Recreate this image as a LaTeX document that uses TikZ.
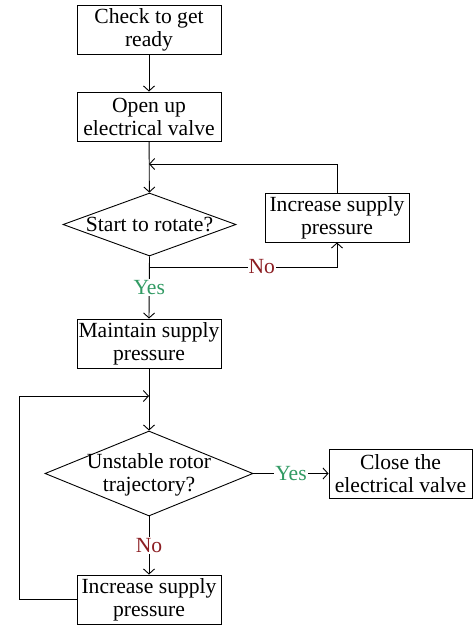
\documentclass[tikz,border=0pt]{standalone}
\usepackage{fontspec}
\setmainfont{Liberation Serif}
\usetikzlibrary{shapes.geometric,arrows.meta}
\definecolor{yesgreen}{RGB}{50,155,100}
\definecolor{nored}{RGB}{140,30,35}
\tikzset{
  every node/.style={font=\fontsize{21.6}{23}\selectfont},
  stepbox/.style={draw, line width=0.9pt, minimum width=144pt, minimum height=49pt, inner sep=0pt, align=center},
  decision/.style={draw, line width=0.9pt, diamond, inner sep=0pt},
  flow/.style={line width=0.9pt, -{Straight Barb[length=5pt,width=11pt,line width=0.9pt]}},
  plain/.style={line width=0.9pt},
  yeslab/.style={fill=white, text=yesgreen, inner sep=1pt},
  nolab/.style={fill=white, text=nored, inner sep=1pt},
}
\begin{document}
\begin{tikzpicture}[x=1pt,y=-1pt]
\useasboundingbox (0,0) rectangle (472,629);
\node[stepbox] (b1) at (149,29.5) {Check to get\\ready};
\node[stepbox] (b2) at (149,116.5) {Open up\\electrical valve};
\coordinate (j1) at (149,164);
\node[decision, minimum width=173pt, minimum height=63pt] (d1) at (149.5,224.5) {};
\node (d1t) at (149.5,224) {Start to rotate?};
\node[stepbox] (inc1) at (337,217.5) {Increase supply\\pressure};
\coordinate (nj) at (149,267);
\node[stepbox] (b3) at (149,343.5) {Maintain supply\\pressure};
\coordinate (j2) at (149,396);
\node[decision, minimum width=208pt, minimum height=85pt] (d2) at (149,473.5) {};
\node[align=center] (d2t) at (149,475) {Unstable rotor\\trajectory?};
\node[stepbox, minimum width=143pt] (close) at (400.5,473.5) {Close the\\electrical valve};
\node[stepbox] (b4) at (149,599.5) {Increase supply\\pressure};
\coordinate (lc) at (19,599.5);

\draw[flow] (b1) -- (b2);
\draw[flow] (b2) -- (d1);
\draw[flow] (inc1.north) |- (j1);
\draw[flow] (d1.south) -- node[yeslab] {Yes} (b3.north);
\draw[flow] (nj) -| node[nolab, pos=0.3] {No} (inc1.south);
\draw[flow] (b3) -- (d2);
\draw[flow] (d2.east) -- node[yeslab] {Yes} (close.west);
\draw[flow] (d2.south) -- node[nolab] {No} (b4.north);
\draw[flow] (b4.west) -- (lc) |- (j2);
\end{tikzpicture}
\end{document}
